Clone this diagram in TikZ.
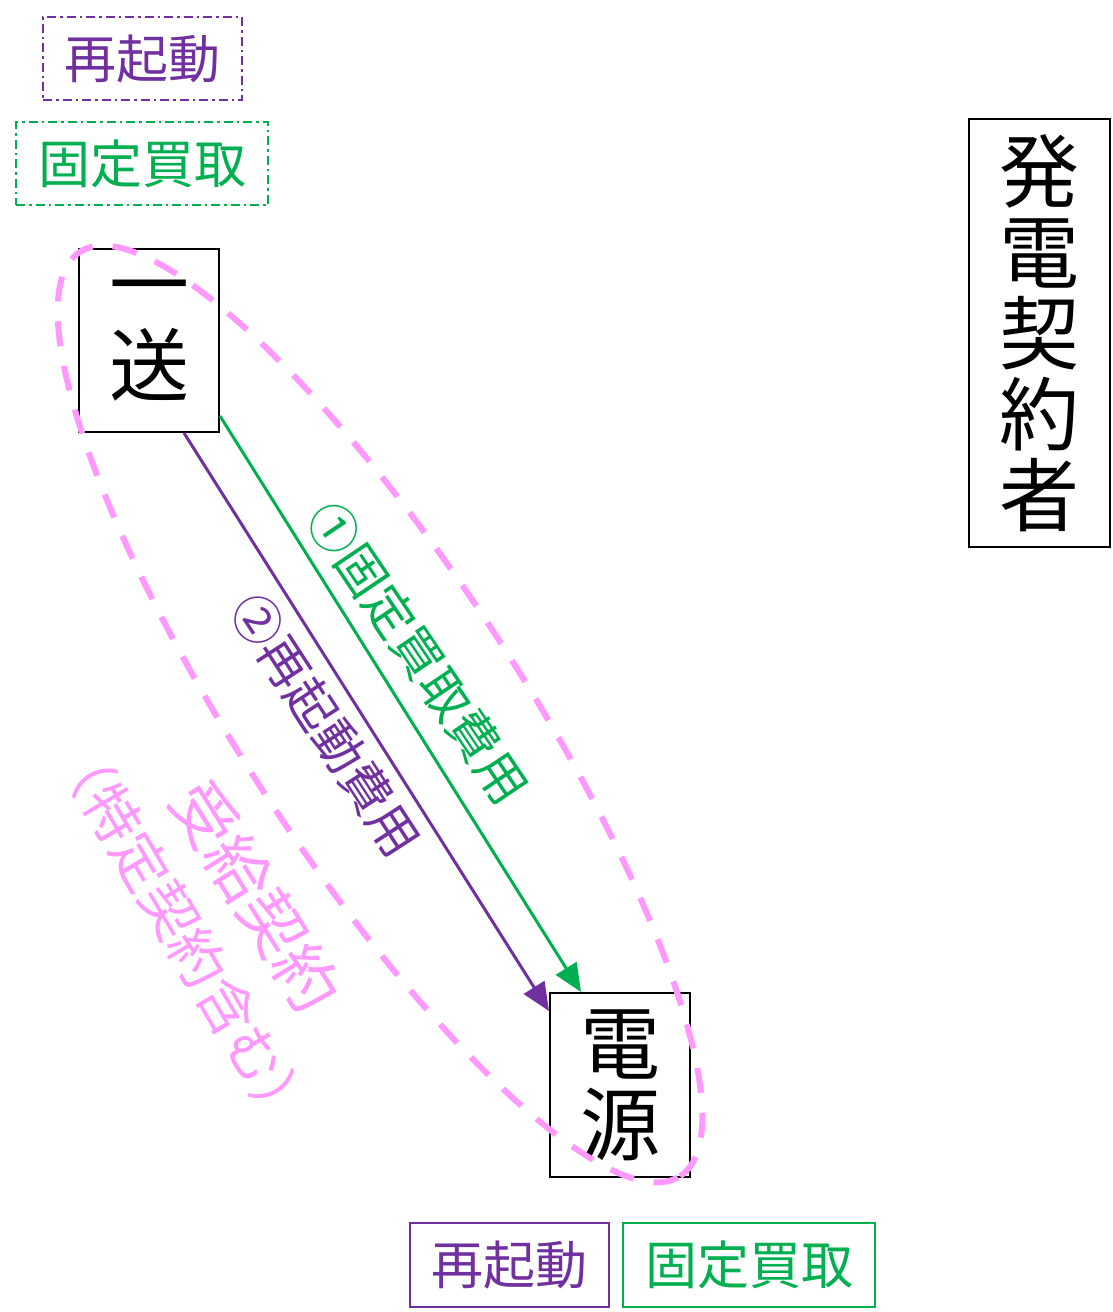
\documentclass[tikz,border=0pt]{standalone}
\usepackage{fontspec}
\setmainfont{Noto Sans CJK JP}
\usetikzlibrary{arrows.meta}
\definecolor{cpurple}{RGB}{112,48,160}
\definecolor{cgreen}{RGB}{0,176,80}
\definecolor{cpink}{RGB}{255,153,255}
\tikzset{
  bigbox/.style={draw=black, line width=2pt, inner sep=0pt, align=center,
    font=\fontsize{80}{81}\selectfont},
  legdash/.style={line width=2pt, dash pattern=on 9pt off 4pt on 2.5pt off 4pt,
    inner sep=0pt, minimum height=83pt, font=\fontsize{52}{60}\selectfont},
  legsolid/.style={line width=2pt, inner sep=0pt, minimum height=84pt,
    font=\fontsize{52}{60}\selectfont},
  costarrow/.style={line width=3pt, -{Triangle[length=28pt,width=24pt]}},
  rotlabel/.style={inner sep=0pt},
  contract/.style={cpink, line width=6pt, dash pattern=on 25pt off 20pt},
}
\begin{document}
\begin{tikzpicture}[x=1pt,y=-1pt]
\useasboundingbox (0,0) rectangle (1112,1312);
% legends
\node[legdash, draw=cpurple, text=cpurple, minimum width=199pt] (legA) at (142.5,58.5) {再起動};
\node[legdash, draw=cgreen, text=cgreen, minimum width=252pt] (legB) at (142,163.5) {固定買取};
\node[legsolid, draw=cpurple, text=cpurple, minimum width=199pt] (legC) at (509.5,1265) {再起動};
\node[legsolid, draw=cgreen, text=cgreen, minimum width=252pt] (legD) at (749,1264.5) {固定買取};
% main boxes
\node[bigbox, minimum width=140pt, minimum height=183pt] (yisou) at (149,340.5) {一\\送};
\node[bigbox, minimum width=140pt, minimum height=184pt] (dengen) at (620,1085) {電\\源};
\node[bigbox, minimum width=141pt, minimum height=428pt] (hatsuden) at (1039.5,333) {発\\電\\契\\約\\者};
% arrows
\draw[costarrow, cgreen] ([yshift=17pt]yisou.south east) -- ([xshift=32pt]dengen.north west);
\draw[costarrow, cpurple] ([xshift=106pt]yisou.south west) -- ([yshift=-19pt]dengen.north west);
% labels
\node[rotlabel, text=cgreen, rotate=-56, font=\fontsize{50}{50}\selectfont] (lblA) at (418,653) {①固定買取費用};
\node[rotlabel, text=cpurple, rotate=-57, font=\fontsize{50}{50}\selectfont] (lblB) at (326,725) {②再起動費用};
\node[rotlabel, text=cpink, rotate=-58, font=\fontsize{64}{64}\selectfont] (lblC) at (256,896) {受給契約};
\node[rotlabel, text=cpink, rotate=-59.5, font=\fontsize{56}{56}\selectfont] (lblD) at (184,934) {（特定契約含む）};
% ellipse
\draw[contract, rotate around={-57:(380,714)}]
  (380,714) ellipse [x radius=551pt, y radius=140pt];
\end{tikzpicture}
\end{document}
